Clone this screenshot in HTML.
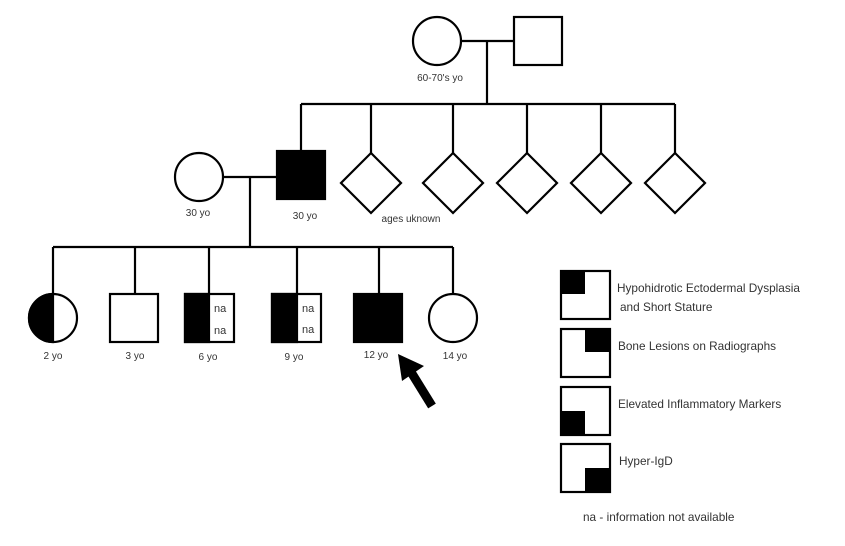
<!DOCTYPE html>
<html><head><meta charset="utf-8"><style>
html,body{margin:0;padding:0;background:#fff;}
svg{display:block;}
text{font-family:"Liberation Sans",sans-serif;fill:#333;}
</style></head><body>
<svg width="845" height="546" viewBox="0 0 845 546" xmlns="http://www.w3.org/2000/svg">
<g stroke="#000" stroke-width="2.2" fill="none">
<circle cx="437" cy="41" r="24" fill="#fff"/>
<rect x="514" y="17" width="48" height="48" fill="#fff"/>
<line x1="461" y1="41" x2="514" y2="41"/>
<line x1="487" y1="41" x2="487" y2="104"/>
<line x1="301" y1="104" x2="675" y2="104"/>
<line x1="301" y1="104" x2="301" y2="151"/>
<line x1="371" y1="104" x2="371" y2="153"/>
<line x1="453" y1="104" x2="453" y2="153"/>
<line x1="527" y1="104" x2="527" y2="153"/>
<line x1="601" y1="104" x2="601" y2="153"/>
<line x1="675" y1="104" x2="675" y2="153"/>
<polygon points="371,153 401,183 371,213 341,183" fill="#fff"/>
<polygon points="453,153 483,183 453,213 423,183" fill="#fff"/>
<polygon points="527,153 557,183 527,213 497,183" fill="#fff"/>
<polygon points="601,153 631,183 601,213 571,183" fill="#fff"/>
<polygon points="675,153 705,183 675,213 645,183" fill="#fff"/>
<circle cx="199" cy="177" r="24" fill="#fff"/>
<rect x="277" y="151" width="48" height="48" fill="#000"/>
<line x1="223" y1="177" x2="277" y2="177"/>
<line x1="250" y1="177" x2="250" y2="247"/>
<line x1="53" y1="247" x2="453" y2="247"/>
<line x1="53" y1="247" x2="53" y2="294"/>
<line x1="135" y1="247" x2="135" y2="294"/>
<line x1="209" y1="247" x2="209" y2="294"/>
<line x1="297" y1="247" x2="297" y2="294"/>
<line x1="379" y1="247" x2="379" y2="294"/>
<line x1="453" y1="247" x2="453" y2="294"/>
<path d="M53,294 A24,24 0 0 0 53,342 Z" fill="#000"/>
<circle cx="53" cy="318" r="24"/>
<rect x="110" y="294" width="48" height="48" fill="#fff"/>
<rect x="185" y="294" width="24" height="48" fill="#000"/>
<rect x="185" y="294" width="49" height="48"/>
<rect x="272" y="294" width="25" height="48" fill="#000"/>
<rect x="272" y="294" width="49" height="48"/>
<rect x="354" y="294" width="48" height="48" fill="#000"/>
<circle cx="453" cy="318" r="24" fill="#fff"/>
<rect x="561" y="271" width="49" height="48"/>
<rect x="561" y="271" width="24" height="23" fill="#000" stroke="none"/>
<rect x="561" y="329" width="49" height="48"/>
<rect x="585" y="329" width="25" height="23" fill="#000" stroke="none"/>
<rect x="561" y="387" width="49" height="48"/>
<rect x="561" y="411" width="24" height="24" fill="#000" stroke="none"/>
<rect x="561" y="444" width="49" height="48"/>
<rect x="585" y="468" width="25" height="24" fill="#000" stroke="none"/>
</g>
<line x1="432" y1="406" x2="411" y2="372" stroke="#000" stroke-width="9"/>
<polygon points="398,354 424,366 402,381" fill="#000"/>
<g font-size="10" text-anchor="middle">
<text x="440" y="81">60-70's yo</text>
<text x="198" y="216">30 yo</text>
<text x="305" y="219">30 yo</text>
<text x="411" y="222">ages uknown</text>
<text x="53" y="359">2 yo</text>
<text x="135" y="359">3 yo</text>
<text x="208" y="360">6 yo</text>
<text x="294" y="360">9 yo</text>
<text x="376" y="358">12 yo</text>
<text x="455" y="359">14 yo</text>
</g>
<g font-size="11">
<text x="214" y="312">na</text>
<text x="214" y="334">na</text>
<text x="302" y="312">na</text>
<text x="302" y="333">na</text>
</g>
<g font-size="11.8">
<text x="617" y="292">Hypohidrotic Ectodermal Dysplasia</text>
<text x="620" y="311">and Short Stature</text>
<text x="618" y="350">Bone Lesions on Radiographs</text>
<text x="618" y="408">Elevated Inflammatory Markers</text>
<text x="619" y="465">Hyper-IgD</text>
<text x="583" y="521">na - information not available</text>
</g>
</svg>
</body></html>
